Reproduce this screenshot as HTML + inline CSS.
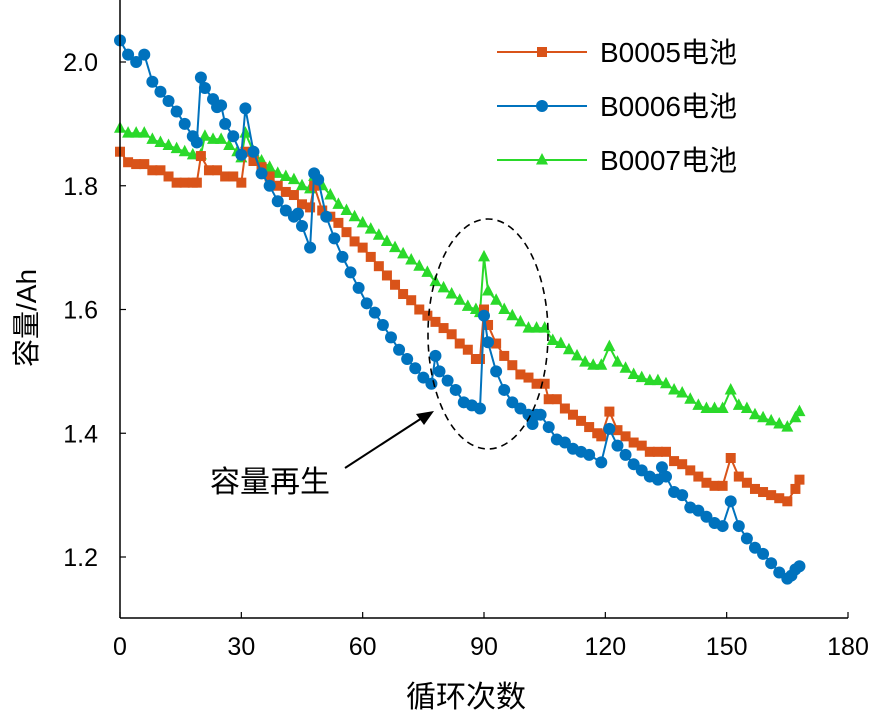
<!DOCTYPE html>
<html><head><meta charset="utf-8"><style>
body{margin:0;background:#fff}
svg text{font-family:"Liberation Sans","Noto Sans CJK SC",sans-serif;}
</style></head><body>
<svg id="chart" width="886" height="720" xmlns="http://www.w3.org/2000/svg">
<g id="marks"></g>
<g id="axes"></g>
</svg>
<script>
const xB5=[0,2,4,6,8,10,12,14,16,18,19,20,22,24,26,28,30,31,33,35,37,39,41,43,45,47,48,50,52,54,56,58,60,62,64,66,68,70,72,74,76,78,80,82,84,86,88,89,90,91,93,95,97,99,101,103,105,106,108,110,112,114,116,118,119,121,123,125,127,129,131,133,135,137,139,141,143,145,147,149,151,153,155,157,159,161,163,165,167,168];
const yB5=[1.855,1.838,1.835,1.835,1.825,1.825,1.815,1.805,1.805,1.805,1.805,1.848,1.825,1.825,1.815,1.815,1.805,1.855,1.84,1.83,1.815,1.8,1.79,1.785,1.77,1.765,1.80,1.76,1.75,1.74,1.725,1.71,1.70,1.685,1.67,1.655,1.64,1.625,1.615,1.6,1.59,1.58,1.57,1.56,1.545,1.535,1.52,1.52,1.60,1.575,1.545,1.525,1.51,1.495,1.49,1.48,1.48,1.455,1.455,1.44,1.43,1.42,1.41,1.40,1.395,1.435,1.405,1.395,1.385,1.38,1.37,1.37,1.37,1.355,1.35,1.34,1.33,1.32,1.315,1.315,1.36,1.33,1.32,1.31,1.305,1.30,1.295,1.29,1.31,1.325];
const xB6=[0,2,4,6,8,10,12,14,16,18,19,20,21,23,24,25,26,28,30,31,33,35,37,39,41,43,44,45,47,48,49,51,53,55,57,59,61,63,65,67,69,71,73,75,77,78,79,81,83,85,87,89,90,91,93,95,97,99,101,102,103,104,106,108,110,112,114,116,119,121,123,125,127,129,131,133,134,135,137,139,141,143,145,147,149,151,153,155,157,159,161,163,165,166,167,168];
const yB6=[2.035,2.012,2.0,2.012,1.968,1.952,1.937,1.92,1.9,1.88,1.87,1.975,1.958,1.94,1.927,1.93,1.9,1.88,1.85,1.925,1.855,1.82,1.8,1.775,1.76,1.75,1.755,1.735,1.70,1.82,1.81,1.75,1.715,1.685,1.66,1.635,1.61,1.595,1.575,1.555,1.535,1.52,1.505,1.49,1.48,1.525,1.50,1.485,1.47,1.45,1.445,1.44,1.59,1.547,1.5,1.47,1.45,1.44,1.43,1.415,1.43,1.43,1.41,1.39,1.385,1.375,1.37,1.365,1.353,1.407,1.38,1.365,1.35,1.34,1.33,1.325,1.345,1.33,1.305,1.30,1.28,1.275,1.265,1.255,1.25,1.29,1.25,1.23,1.215,1.205,1.19,1.175,1.165,1.17,1.18,1.185];
const xB7=[0,2,4,6,8,10,12,14,16,18,20,21,23,25,27,29,30,31,33,35,37,39,41,43,45,47,48,50,52,54,56,58,60,62,64,66,68,70,72,74,76,78,80,82,84,86,88,89,90,91,93,95,97,99,101,103,105,107,109,111,113,115,117,119,121,123,125,127,129,131,133,135,137,139,141,143,145,147,149,151,153,155,157,159,161,163,165,167,168];
const yB7=[1.893,1.885,1.885,1.885,1.875,1.87,1.865,1.86,1.855,1.85,1.85,1.88,1.875,1.875,1.865,1.855,1.845,1.885,1.855,1.84,1.83,1.82,1.815,1.81,1.80,1.795,1.815,1.80,1.785,1.77,1.76,1.75,1.74,1.73,1.72,1.71,1.70,1.69,1.68,1.67,1.66,1.645,1.635,1.625,1.615,1.605,1.60,1.595,1.685,1.63,1.615,1.60,1.59,1.58,1.57,1.57,1.57,1.55,1.545,1.535,1.525,1.515,1.51,1.51,1.54,1.515,1.505,1.495,1.49,1.485,1.485,1.48,1.47,1.465,1.455,1.445,1.44,1.44,1.44,1.47,1.445,1.44,1.43,1.425,1.42,1.415,1.41,1.425,1.435];
const xTicks=[0,30,60,90,120,150,180];
const yTicks=[1.2,1.4,1.6,1.8,2.0];
const NS="http://www.w3.org/2000/svg";
const X0=120,X1=848,Y0=557,Y1=62;
function sx(v){return X0+(v-0)/180*(X1-X0);}
function sy(v){return Y0-(v-1.2)/0.8*(Y0-Y1);}
function mk(tag,attrs,parent){const e=document.createElementNS(NS,tag);for(const k in attrs)e.setAttribute(k,attrs[k]);parent.appendChild(e);return e;}
const marks=document.getElementById('marks'),axes=document.getElementById('axes');
function marker(type,x,y,color,g){
  let e;
  if(type==='sq'){e=mk('rect',{x:x-5,y:y-5,width:10,height:10,fill:color},g);}
  else if(type==='ci'){e=mk('circle',{cx:x,cy:y,r:6,fill:color},g);}
  else {e=mk('polygon',{points:`${x},${y-7} ${x-6},${y+4.5} ${x+6},${y+4.5}`,fill:color},g);}
  return e;
}
function series(xs,ys,color,type,name){
  const g=mk('g',{},marks);
  
  
  const pts=xs.map((x,i)=>sx(x).toFixed(1)+','+sy(ys[i]).toFixed(1)).join(' ');
  const pl=mk('polyline',{points:pts,fill:'none',stroke:color,'stroke-width':2},g);
  
  
  xs.forEach((x,i)=>{const m=marker(type,sx(x),sy(ys[i]),color,g);
    
    });
}
series(xB7,yB7,'#2ad92a','tr','series-b0007');
series(xB5,yB5,'#d95319','sq','series-b0005');
series(xB6,yB6,'#0072bd','ci','series-b0006');
let a=mk('line',{x1:X0,y1:0,x2:X0,y2:618,stroke:'#000','stroke-width':1.5},axes);

a=mk('line',{x1:X0,y1:618,x2:X1,y2:618,stroke:'#000','stroke-width':1.5},axes);

xTicks.forEach(t=>{mk('line',{x1:sx(t),y1:618,x2:sx(t),y2:612,stroke:'#000','stroke-width':1.2},axes);
  const tx=mk('text',{x:sx(t),y:655,'text-anchor':'middle','font-size':25},axes);tx.textContent=t;
  });
yTicks.forEach(t=>{mk('line',{x1:X0,y1:sy(t),x2:X0+6,y2:sy(t),stroke:'#000','stroke-width':1.2},axes);
  const tx=mk('text',{x:98,y:sy(t)+9,'text-anchor':'end','font-size':25},axes);tx.textContent=t.toFixed(1);
  });
</script>
<svg width="886" height="720" style="position:absolute;left:0;top:0" xmlns="http://www.w3.org/2000/svg">
<text x="466" y="707" text-anchor="middle" font-size="30">循环次数</text>
<text transform="translate(36,318) rotate(-90)" text-anchor="middle" font-size="28">容量/Ah</text>
<g>
<line x1="497" y1="52" x2="587" y2="52" stroke="#d95319" stroke-width="2"/><rect x="537" y="47" width="10" height="10" fill="#d95319"/>
<text x="600" y="62" font-size="28">B0005电池</text>
<line x1="497" y1="106" x2="587" y2="106" stroke="#0072bd" stroke-width="2"/><circle cx="542" cy="106" r="6" fill="#0072bd"/>
<text x="600" y="116" font-size="28">B0006电池</text>
<line x1="497" y1="160" x2="587" y2="160" stroke="#2ad92a" stroke-width="2"/><polygon points="542,153 536,164.5 548,164.5" fill="#2ad92a"/>
<text x="600" y="170" font-size="28">B0007电池</text>
</g>
<ellipse cx="488" cy="334" rx="60" ry="115" fill="none" stroke="#000" stroke-width="1.6" stroke-dasharray="7,5"/>
<line x1="345" y1="468" x2="422" y2="418" stroke="#000" stroke-width="2"/>
<polygon points="434,411 416,414 424,425" fill="#000"/>
<text x="210" y="492" font-size="30" font-family="Liberation Serif,Noto Serif CJK SC,serif">容量再生</text>
</svg>
</body></html>
